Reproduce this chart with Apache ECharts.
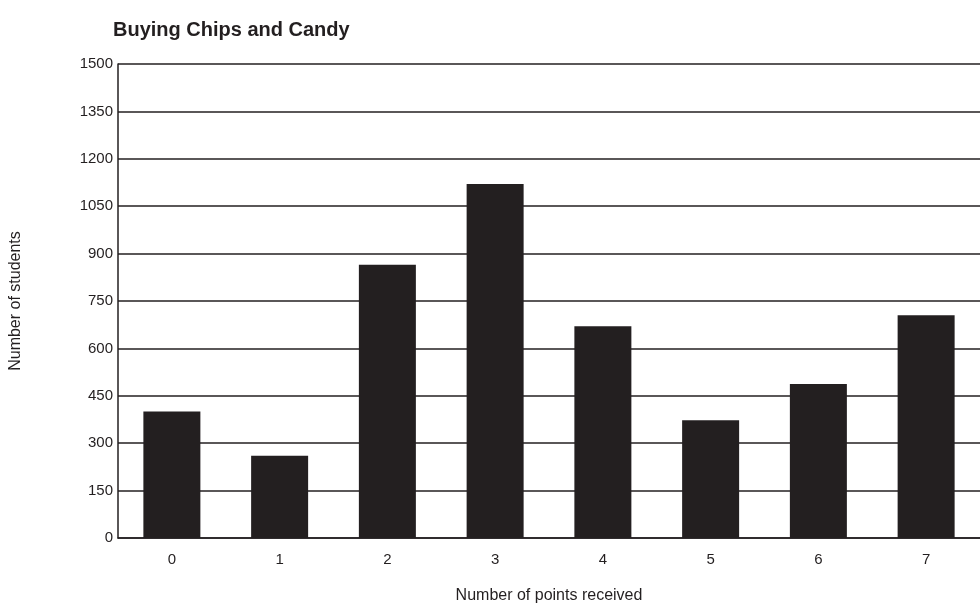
<!DOCTYPE html>
<html>
<head>
<meta charset="utf-8">
<script src="https://cdn.jsdelivr.net/npm/echarts@6/dist/echarts.min.js"></script>
<style>
  html, body { margin: 0; padding: 0; background: #fff; }
  #chart { width: 980px; height: 609px; }
</style>
</head>
<body>
<div id="chart"></div>
<script>
// points received on the test
const categories = ['0', '1', '2', '3', '4', '5', '6', '7'];
// number of students per score
const students = [400, 260, 865, 1120, 670, 373, 487, 705];

const ink = '#231f20';
const font = '"Liberation Sans", Arial, sans-serif';

const chart = echarts.init(document.getElementById('chart'));
chart.setOption({
    animation: false,
    title: {
        text: 'Buying Chips and Candy',
        left: 108,
        top: 15,
        textStyle: { fontFamily: font, fontSize: 20, fontWeight: 'bold', color: ink }
    },
    grid: { left: 116, right: 0, top: 64, bottom: 71, containLabel: false },
    xAxis: {
        type: 'category',
        data: categories,
        name: 'Number of points received',
        nameLocation: 'middle',
        nameGap: 50,
        nameTextStyle: { fontFamily: font, fontSize: 16, color: ink },
        axisLine: { lineStyle: { color: ink, width: 1.5 } },
        axisTick: { show: false },
        axisLabel: { fontFamily: font, fontSize: 15, color: ink, margin: 14 }
    },
    yAxis: {
        type: 'value',
        min: 0,
        max: 1500,
        interval: 150,
        name: 'Number of students',
        nameLocation: 'middle',
        nameGap: 94,
        nameTextStyle: { fontFamily: font, fontSize: 16, color: ink },
        axisLine: { show: true, lineStyle: { color: ink, width: 1.5 } },
        axisTick: { show: false },
        axisLabel: { fontFamily: font, fontSize: 15, color: ink, margin: 5, formatter: v => String(v) },
        splitLine: { lineStyle: { color: ink, width: 1.5 } }
    },
    series: [{
        type: 'bar',
        data: students,
        barWidth: 57,
        itemStyle: { color: ink }
    }]
});
</script>
</body>
</html>
